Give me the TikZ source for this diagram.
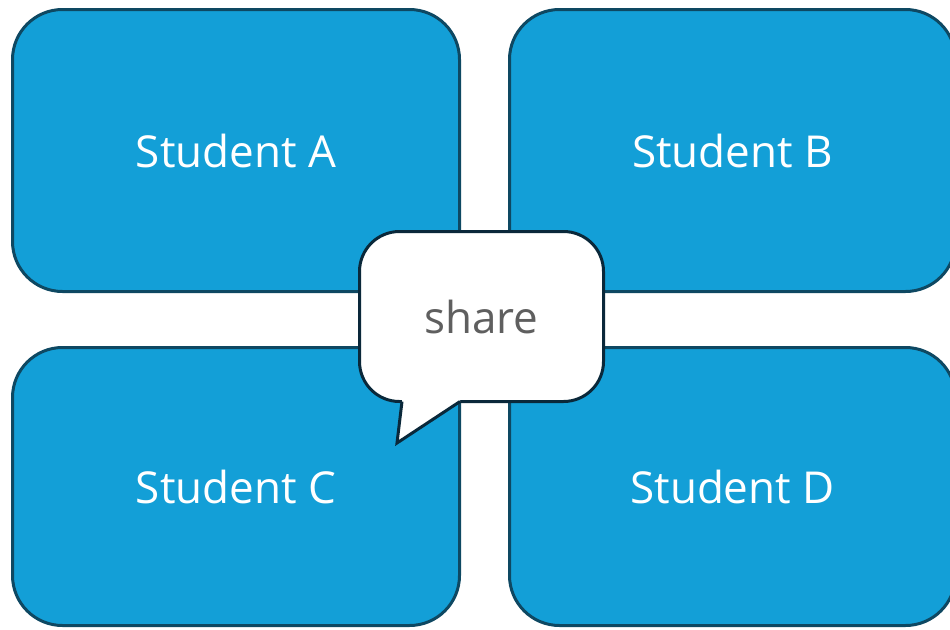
\documentclass[tikz,border=0pt]{standalone}
\usepackage{fontspec}
\setmainfont{Open Sans}
\definecolor{boxfill}{RGB}{19,159,215}
\definecolor{boxline}{RGB}{14,72,98}
\definecolor{bubline}{RGB}{10,40,58}
\definecolor{bubtext}{RGB}{95,95,95}
\tikzset{
  studentbox/.style={draw=boxline, fill=boxfill, line width=3pt, rounded corners=50pt,
    text=white, font=\fontsize{44}{50}\selectfont, inner sep=0pt},
  bubblebox/.style={draw=bubline, fill=white, line width=3pt, rounded corners=40pt,
    text=bubtext, font=\fontsize{44}{50}\selectfont, inner sep=0pt,
    minimum width=244pt, minimum height=170pt},
  tailline/.style={draw=bubline, line width=3pt, line join=miter}
}
\begin{document}
\begin{tikzpicture}[x=1pt,y=-1pt]
\useasboundingbox (0,0) rectangle (950,629);
\node[studentbox, minimum width=447pt, minimum height=282pt] (A) at (236,150.5) {Student A};
\node[studentbox, minimum width=446pt, minimum height=282pt] (B) at (732.5,150.5) {Student B};
\node[studentbox, minimum width=447pt, minimum height=278pt] (C) at (236,486.5) {Student C};
\node[studentbox, minimum width=446pt, minimum height=278pt] (D) at (732.5,486.5) {Student D};
\node[bubblebox] (S) at (481.5,316.5) {share};
\coordinate (tl) at (402,401.5);
\coordinate (tip) at (397,443);
\coordinate (tr) at (460,401.5);
\fill[white] (402,398) -- (tl) -- (tip) -- (tr) -- (460,398) -- cycle;
\draw[tailline] (tl) -- (tip) -- (tr);
\end{tikzpicture}
\end{document}
